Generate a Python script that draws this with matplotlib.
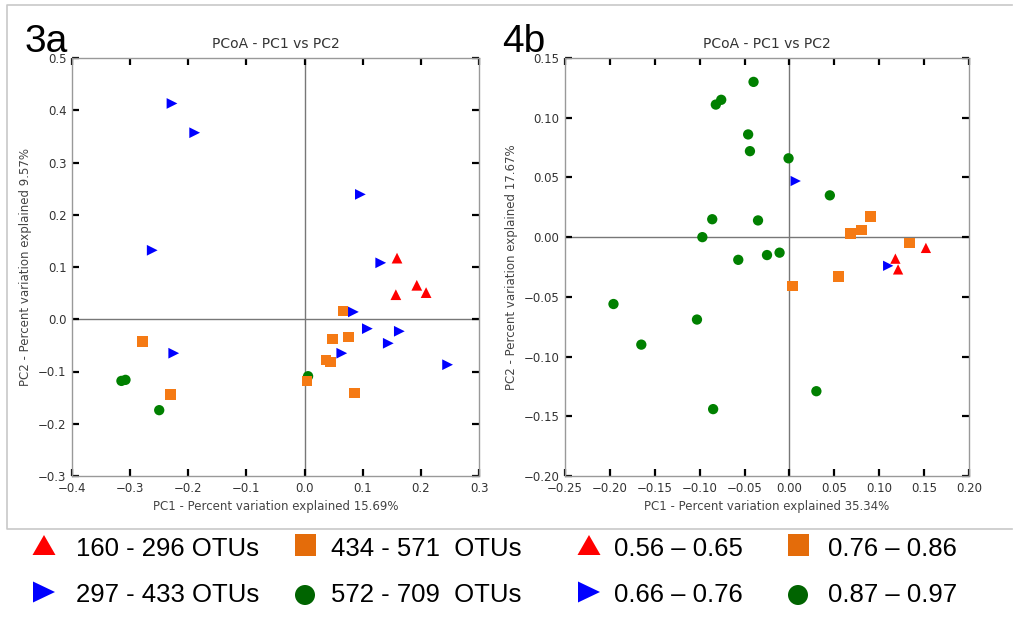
import numpy as np
import matplotlib
matplotlib.use('Agg')
import matplotlib.pyplot as plt
from matplotlib.patches import Polygon, Rectangle, Ellipse
from matplotlib.ticker import FuncFormatter

# ---- panel 3a : PCoA by OTU range ----
a_red_x = [0.159, 0.193, 0.209, 0.157]
a_red_y = [0.117, 0.065, 0.051, 0.047]
a_blue_x = [-0.228, -0.189, -0.262, 0.096, 0.131, 0.084, 0.108, 0.163, 0.144, 0.064, 0.246, -0.225]
a_blue_y = [0.413, 0.357, 0.132, 0.239, 0.108, 0.014, -0.018, -0.023, -0.046, -0.065, -0.087, -0.065]
a_orange_x = [0.066, 0.048, 0.075, 0.037, 0.045, 0.004, 0.086, -0.279, -0.230]
a_orange_y = [0.016, -0.038, -0.034, -0.078, -0.082, -0.118, -0.141, -0.042, -0.144]
a_green_x = [-0.315, -0.308, -0.250, 0.006]
a_green_y = [-0.118, -0.116, -0.174, -0.109]

# ---- panel 4b : PCoA by range 0.56 - 0.97 ----
b_red_x = [0.152, 0.118, 0.121]
b_red_y = [-0.009, -0.018, -0.027]
b_blue_x = [0.007, 0.110]
b_blue_y = [0.047, -0.024]
b_orange_x = [0.090, 0.080, 0.068, 0.134, 0.055, 0.003]
b_orange_y = [0.017, 0.006, 0.003, -0.005, -0.033, -0.041]
b_green_x = [-0.040, -0.076, -0.082, -0.046, -0.044, -0.001, 0.045, -0.086, -0.035, -0.097,
             -0.011, -0.025, -0.057, -0.196, -0.165, -0.103, -0.085, 0.030]
b_green_y = [0.130, 0.115, 0.111, 0.086, 0.072, 0.066, 0.035, 0.015, 0.014, 0.000,
             -0.013, -0.015, -0.019, -0.056, -0.090, -0.069, -0.144, -0.129]

a_labels = ['160 - 296 OTUs', '297 - 433 OTUs', '434 - 571  OTUs', '572 - 709  OTUs']
b_labels = ['0.56 \u2013 0.65', '0.66 \u2013 0.76', '0.76 \u2013 0.86', '0.87 \u2013 0.97']

RED, BLUE, ORANGE, GREEN = '#ff0000', '#0000ff', '#f57a14', '#008000'
TXT = '#333333'


def fmt(dec):
    def f(v, p):
        if abs(v) < 1e-9:
            v = 0.0
        return ('%.*f' % (dec, v)).replace('-', '\u2212')
    return FuncFormatter(f)


def style_axes(ax, xlim, ylim, xticks, yticks, dec, xlabel, ylabel):
    ax.axhline(0, color='#777777', lw=1, zorder=1)
    ax.axvline(0, color='#777777', lw=1, zorder=1)
    ax.set_xlim(xlim)
    ax.set_ylim(ylim)
    ax.set_xticks(np.round(xticks, 2))
    ax.set_yticks(np.round(yticks, 2))
    ax.xaxis.set_major_formatter(fmt(dec))
    ax.yaxis.set_major_formatter(fmt(dec))
    ax.tick_params(direction='in', length=5, width=1.6, color='black',
                   top=True, right=True, labelsize=8.5, labelcolor=TXT, pad=4)
    for s in ax.spines.values():
        s.set_color('#999999')
        s.set_linewidth(1)
    ax.set_title('PCoA - PC1 vs PC2', fontsize=10, color=TXT, pad=7)
    ax.set_xlabel(xlabel, fontsize=8.5, color='#444444', labelpad=4)
    ax.set_ylabel(ylabel, fontsize=8.5, color='#444444')


def draw(ax, groups):
    for x, y, m, c, s in groups:
        ax.scatter(x, y, marker=m, c=c, s=s, edgecolors='none', zorder=3)


fig = plt.figure(figsize=(10.13, 6.19), dpi=100)

# frame in pixel coordinates
bg = fig.add_axes([0, 0, 1, 1], zorder=0)
bg.set_xlim(0, 1013)
bg.set_ylim(619, 0)
bg.axis('off')
bg.plot([1012, 7, 7, 1012], [5, 5, 529, 529], color='#c8c8c8', lw=1.2)

ax1 = fig.add_axes([72 / 1013, 1 - 476 / 619, 407 / 1013, 418 / 619], zorder=1)
draw(ax1, [(a_green_x, a_green_y, 'o', GREEN, 55),
           (a_orange_x, a_orange_y, 's', ORANGE, 60),
           (a_blue_x, a_blue_y, '>', BLUE, 60),
           (a_red_x, a_red_y, '^', RED, 60)])
style_axes(ax1, (-0.4, 0.3), (-0.3, 0.5), np.arange(-0.4, 0.31, 0.1),
           np.arange(-0.3, 0.51, 0.1), 1,
           'PC1 - Percent variation explained 15.69%',
           'PC2 - Percent variation explained 9.57%')

ax2 = fig.add_axes([565 / 1013, 1 - 476 / 619, 404 / 1013, 418 / 619], zorder=1)
draw(ax2, [(b_green_x, b_green_y, 'o', GREEN, 55),
           (b_orange_x, b_orange_y, 's', ORANGE, 60),
           (b_blue_x, b_blue_y, '>', BLUE, 55),
           (b_red_x, b_red_y, '^', RED, 55)])
style_axes(ax2, (-0.25, 0.20), (-0.20, 0.15), np.arange(-0.25, 0.201, 0.05),
           np.arange(-0.20, 0.151, 0.05), 2,
           'PC1 - Percent variation explained 35.34%',
           'PC2 - Percent variation explained 17.67%')

fig.text(25 / 1013, 1 - 52 / 619, '3a', fontsize=28, family=['Liberation Sans', 'DejaVu Sans'])
fig.text(502 / 1013, 1 - 52 / 619, '4b', fontsize=28, family=['Liberation Sans', 'DejaVu Sans'])

# legend under the panels
top = fig.add_axes([0, 0, 1, 1], zorder=2)
top.set_xlim(0, 1013)
top.set_ylim(619, 0)
top.axis('off')
LG_RED, LG_BLUE, LG_ORANGE, LG_GREEN = '#ff0000', '#0000ff', '#e46c0a', '#006400'


def up_tri(cx, cy, c):
    top.add_patch(Polygon([(cx - 11.5, cy + 10), (cx + 11.5, cy + 10), (cx, cy - 10)], color=c, lw=0))


def right_tri(cx, cy, c):
    top.add_patch(Polygon([(cx - 11, cy - 10.5), (cx - 11, cy + 10.5), (cx + 11, cy)], color=c, lw=0))


def legend_text(x, y, s):
    top.text(x, y, s, fontsize=18.5, va='center', ha='left',
             family=['Liberation Sans', 'DejaVu Sans'], color='black')


# (triangle x, text x, square x, text x) for each legend block
for (tx, ttx, sx, stx), labels in [((44, 76, 305, 331), a_labels),
                                   ((589, 614, 798, 828), b_labels)]:
    up_tri(tx, 545, LG_RED)
    right_tri(tx, 592, LG_BLUE)
    top.add_patch(Rectangle((sx - 10.5, 534), 21, 22, color=LG_ORANGE, lw=0))
    top.add_patch(Ellipse((sx, 595), 20, 20, color=LG_GREEN, lw=0))
    legend_text(ttx, 549, labels[0])
    legend_text(ttx, 595, labels[1])
    legend_text(stx, 549, labels[2])
    legend_text(stx, 595, labels[3])

fig.savefig('out.png', dpi=100)
